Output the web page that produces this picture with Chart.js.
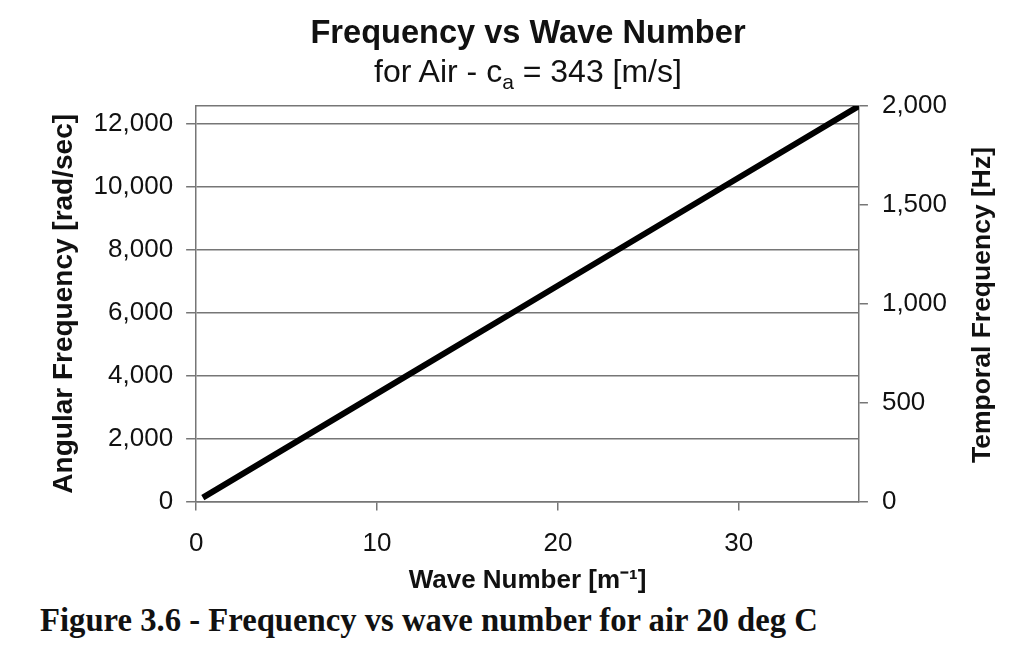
<!DOCTYPE html>
<html>
<head>
<meta charset="utf-8">
<script src="https://cdn.jsdelivr.net/npm/chart.js@4"></script>
<style>
    body { margin: 0; background: #fff; font-family: "Liberation Sans", Arial, sans-serif; }
    #wrap { position: absolute; left: 0; top: 0; width: 1024px; height: 600px; }
    .titulo { position: absolute; left: 528px; transform: translateX(-50%); white-space: nowrap; color: #111; }
    #t1 { top: 13px; font-size: 32.6px; font-weight: bold; }
    #t2 { top: 53px; font-size: 32px; }
    #t2 sub { font-size: 21px; vertical-align: -7px; line-height: 0; }
    #pie { position: absolute; left: 40px; top: 602px; font-family: "Liberation Serif", "Times New Roman", serif;
           font-weight: bold; font-size: 32.7px; color: #111; white-space: nowrap; }
</style>
</head>
<body>
<div id="wrap"><canvas id="grafico"></canvas></div>
<div class="titulo" id="t1">Frequency vs Wave Number</div>
<div class="titulo" id="t2">for Air - c<sub>a</sub> = 343 [m/s]</div>
<div id="pie">Figure 3.6 - Frequency vs wave number for air 20 deg C</div>
<script>
// valores (cruces con la rejilla y extremos)
var numeroOnda = [0.37, 5.83, 11.66, 17.49, 23.32, 29.15, 36.64];     // m^-1
var frecAngular = [126, 2000, 4000, 6000, 8000, 10000, 12566];        // rad/s
var ticksX = [0, 10, 20, 30];
var ticksIzq = [0, 2000, 4000, 6000, 8000, 10000, 12000];
var ticksDer = [0, 500, 1000, 1500, 2000];

document.addEventListener('DOMContentLoaded', f_principal);

function f_principal() {
    graficoLinea();
}

function graficoLinea() {
    var puntos = [];
    for (var i = 0; i < numeroOnda.length; i++) {
        puntos.push({ x: numeroOnda[i], y: frecAngular[i] });
    }

    var fuente = "'Liberation Sans', Arial, sans-serif";
    var gris = '#767676';

    // titulo del eje derecho (se lee de abajo hacia arriba)
    var tituloDerecho = {
        id: 'tituloDerecho',
        afterDraw: function (chart) {
            var ctx = chart.ctx;
            ctx.save();
            ctx.translate(983, 305);
            ctx.rotate(-Math.PI / 2);
            ctx.font = 'bold 26.5px ' + fuente;
            ctx.fillStyle = '#111';
            ctx.textAlign = 'center';
            ctx.textBaseline = 'middle';
            ctx.fillText('Temporal Frequency [Hz]', 0, 0);
            ctx.restore();
        }
    };

    var data = {
        datasets: [{
            data: puntos,
            borderColor: '#000',
            borderWidth: 6,
            pointRadius: 0,
            fill: false,
            yAxisID: 'y'
        }]
    };

    var options = {
        responsive: true,
        maintainAspectRatio: false,
        animation: false,
        layout: {
            padding: { top: 106, left: 47, right: 63, bottom: 4 }
        },
        plugins: {
            legend: { display: false },
            tooltip: { enabled: false }
        },
        scales: {
            x: {
                type: 'linear',
                position: 'bottom',
                min: 0,
                max: 36.64,
                afterBuildTicks: function (eje) {
                    eje.ticks = ticksX.map(function (v) { return { value: v }; });
                },
                grid: { drawOnChartArea: false, color: gris, lineWidth: 1.5, tickLength: 9 },
                border: { color: gris, width: 1.5 },
                ticks: { color: '#111', font: { family: fuente, size: 26 }, padding: 18, maxRotation: 0 },
                title: {
                    display: true,
                    text: 'Wave Number [m\u207B\u00B9]',
                    color: '#111',
                    font: { family: fuente, size: 26, weight: 'bold' },
                    padding: { top: -13, bottom: 0 }
                }
            },
            xArriba: {
                type: 'linear',
                position: 'top',
                min: 0,
                max: 36.64,
                grid: { drawOnChartArea: false, drawTicks: false },
                border: { color: gris, width: 1.5 },
                ticks: { display: false }
            },
            y: {
                type: 'linear',
                position: 'left',
                min: 0,
                max: 12566,
                afterBuildTicks: function (eje) {
                    eje.ticks = ticksIzq.map(function (v) { return { value: v }; });
                },
                grid: { color: gris, lineWidth: 1.5, tickLength: 10 },
                border: { color: gris, width: 1.5 },
                ticks: {
                    color: '#111',
                    font: { family: fuente, size: 26 },
                    padding: 13,
                    callback: function (v) { return v.toLocaleString('en-US'); }
                },
                title: {
                    display: true,
                    text: 'Angular Frequency [rad/sec]',
                    color: '#111',
                    font: { family: fuente, size: 28, weight: 'bold' },
                    padding: { top: 0, bottom: 0 }
                }
            },
            yDer: {
                type: 'linear',
                position: 'right',
                display: true,
                min: 0,
                max: 2000,
                afterBuildTicks: function (eje) {
                    eje.ticks = ticksDer.map(function (v) { return { value: v }; });
                },
                grid: { drawOnChartArea: false, color: gris, lineWidth: 1.5, tickLength: 9 },
                border: { color: gris, width: 1.5 },
                ticks: {
                    color: '#111',
                    font: { family: fuente, size: 26 },
                    padding: 14,
                    callback: function (v) { return v.toLocaleString('en-US'); }
                }
            }
        }
    };

    var ctx = document.getElementById('grafico').getContext('2d');
    var linea = new Chart(ctx, {
        type: 'line',
        data: data,
        options: options,
        plugins: [tituloDerecho]
    });
}
</script>
</body>
</html>
